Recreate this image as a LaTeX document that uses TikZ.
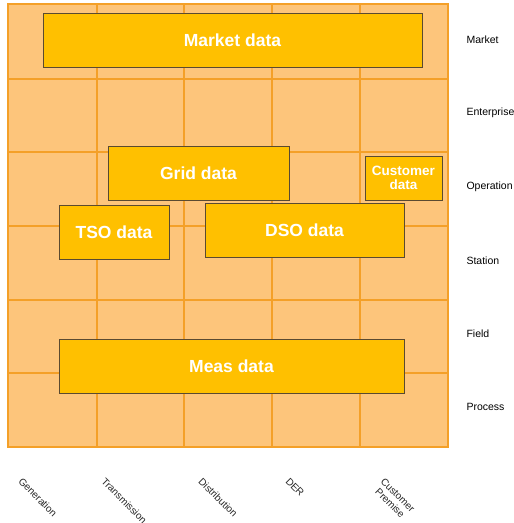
\documentclass[tikz,border=0pt]{standalone}
\usepackage{fontspec}
\setmainfont{Liberation Sans}
\definecolor{cellfill}{HTML}{FDC57B}
\definecolor{gridline}{HTML}{F4A028}
\definecolor{boxfill}{HTML}{FFC000}
\definecolor{boxedge}{HTML}{5A4A30}
\tikzset{
  databox/.style={draw=boxedge, line width=0.9pt, fill=boxfill, text=white, font=\bfseries\fontsize{17.5}{19}\selectfont, inner sep=0pt},
  rowlabel/.style={anchor=west, font=\fontsize{10.5}{12}\selectfont, text=black},
  collabel/.style={anchor=north west, rotate=-45, font=\fontsize{10}{11}\selectfont, align=center, inner sep=0pt, text=black!85}
}
\begin{document}
\begin{tikzpicture}[x=1pt,y=-1pt]
\useasboundingbox (0,0) rectangle (514,523);
\fill[white] (0,0) rectangle (514,523);
% grid
\fill[cellfill] (8,4) rectangle (448,447);
\foreach \x in {97,184,272,360} \draw[gridline, line width=1.5pt] (\x,4) -- (\x,447);
\foreach \y in {79,152,226,300,373} \draw[gridline, line width=1.5pt] (8,\y) -- (448,\y);
\draw[gridline, line width=1.5pt] (8,4) rectangle (448,447);
% boxes
\node[databox, minimum width=379pt, minimum height=54pt] (market) at (232.5,40) {Market data};
\node[databox, minimum width=181pt, minimum height=54pt] (grid) at (198.5,173) {Grid data};
\node[databox, minimum width=77pt, minimum height=44pt, align=center, font=\bfseries\fontsize{13.5}{13.5}\selectfont] (customer) at (403.5,178) {Customer\\data};
\node[databox, minimum width=110pt, minimum height=54pt] (tso) at (114,232) {TSO data};
\node[databox, minimum width=199pt, minimum height=54pt] (dso) at (304.5,230) {DSO data};
\node[databox, minimum width=345pt, minimum height=54pt] (meas) at (231.5,366) {Meas data};
% row labels
\node[rowlabel] (lmarket) at (463,40) {Market};
\node[rowlabel] (lent) at (463,113) {Enterprise};
\node[rowlabel] (lop) at (463,187) {Operation};
\node[rowlabel] (lst) at (463,261) {Station};
\node[rowlabel] (lfi) at (463,334) {Field};
\node[rowlabel] (lpr) at (463,407) {Process};
% column labels
\node[collabel] (cgen) at (23,477) {Generation};
\node[collabel] (ctra) at (106,477) {Transmission};
\node[collabel] (cdis) at (203,477) {Distribution};
\node[collabel] (cder) at (290,477) {DER};
\node[collabel] (ccus) at (385,477) {Customer\\Premise};
\end{tikzpicture}
\end{document}
